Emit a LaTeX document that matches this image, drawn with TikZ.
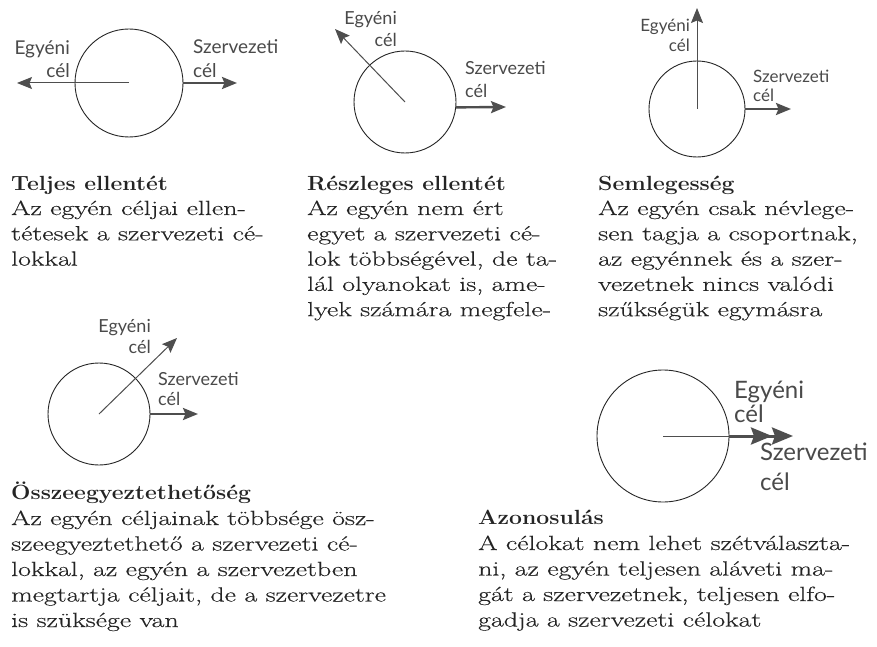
\documentclass[tikz,border=0pt]{standalone}
\usepackage{fontspec}
\setmainfont{Latin Modern Roman}[FakeStretch=1.36, UprightFeatures={FakeBold=0.35}, BoldFeatures={FakeStretch=1.12}]
\newfontfamily\lblfont{Lato}
\usetikzlibrary{arrows.meta}
\definecolor{txt}{HTML}{242424}
\definecolor{lblc}{HTML}{4A4A4A}
\definecolor{arr}{HTML}{4E4E4E}
\tikzset{
  body/.style={anchor=base west, inner sep=0pt, text=txt, font=\fontsize{20.5}{24}\selectfont},
  head/.style={body, font=\fontsize{20.5}{24}\selectfont\bfseries},
  lbl/.style={inner sep=0pt, text=lblc, font=\lblfont\fontsize{19}{22}\selectfont},
  ring/.style={circle, draw=black!85, line width=0.9pt, inner sep=0pt},
  tipA/.tip={Stealth[length=15pt,width=12pt,inset=2.5pt]},
  thinarrow/.style={draw=arr, line width=1pt, -tipA},
  thickarrow/.style={draw=arr, line width=2.4pt, -tipA},
}
\begin{document}
\begin{tikzpicture}[x=1pt,y=-1pt]
\useasboundingbox[fill=white] (0,0) rectangle (877,647);

% ---- Panel 1: Teljes ellentet
\node[ring, minimum size=108pt] (c1) at (129,83) {};
\coordinate (t1l) at (17,83);
\coordinate (t1r) at (237,83);
\draw[thinarrow] (c1.center) -- (t1l);
\draw[thickarrow] (c1.east) -- (t1r);
\node[lbl, anchor=base east] (e1a) at (70,55) {Egyéni};
\node[lbl, anchor=base east] (e1b) at (70,78) {cél};
\node[lbl, anchor=base west] (s1a) at (193,54) {Szervezeti};
\node[lbl, anchor=base west] (s1b) at (193,78) {cél};

% ---- Panel 2: Reszleges ellentet
\node[ring, minimum size=102pt] (c2) at (405,102) {};
\coordinate (t2u) at (335,29);
\coordinate (t2r) at (506,107);
\draw[thinarrow] (c2.center) -- (t2u);
\draw[thickarrow] (c2.-6) -- (t2r);
\node[lbl, font=\lblfont\fontsize{18}{22}\selectfont, anchor=base east] (e2a) at (397,25) {Egyéni};
\node[lbl, font=\lblfont\fontsize{18}{22}\selectfont, anchor=base east] (e2b) at (397,47) {cél};
\node[lbl, font=\lblfont\fontsize{18}{22}\selectfont, anchor=base west] (s2a) at (465,75) {Szervezeti};
\node[lbl, font=\lblfont\fontsize{18}{22}\selectfont, anchor=base west] (s2b) at (465,98) {cél};

% ---- Panel 3: Semlegesseg
\node[ring, minimum size=96pt] (c3) at (697,109) {};
\coordinate (t3u) at (697,8);
\coordinate (t3r) at (791,109);
\draw[thinarrow] (c3.center) -- (t3u);
\draw[thickarrow] (c3.east) -- (t3r);
\node[lbl, font=\lblfont\fontsize{17}{22}\selectfont, anchor=base east] (e3a) at (690,32) {Egyéni};
\node[lbl, font=\lblfont\fontsize{17}{22}\selectfont, anchor=base east] (e3b) at (690,52) {cél};
\node[lbl, font=\lblfont\fontsize{17}{22}\selectfont, anchor=base west] (s3a) at (753,83) {Szervezeti};
\node[lbl, font=\lblfont\fontsize{17}{22}\selectfont, anchor=base west] (s3b) at (753,102) {cél};

% ---- Panel 4: Osszeegyeztethetoseg
\node[ring, minimum size=102pt] (c4) at (99,414) {};
\coordinate (t4u) at (177,338);
\coordinate (t4r) at (198,414);
\draw[thinarrow] (c4.center) -- (t4u);
\draw[thickarrow] (c4.east) -- (t4r);
\node[lbl, font=\lblfont\fontsize{18}{22}\selectfont, anchor=base east] (e4a) at (151,332) {Egyéni};
\node[lbl, font=\lblfont\fontsize{18}{22}\selectfont, anchor=base east] (e4b) at (151,353) {cél};
\node[lbl, font=\lblfont\fontsize{18}{22}\selectfont, anchor=base west] (s4a) at (158,385) {Szervezeti};
\node[lbl, font=\lblfont\fontsize{18}{22}\selectfont, anchor=base west] (s4b) at (158,405) {cél};

% ---- Panel 5: Azonosulas
\node[ring, minimum size=132pt] (c5) at (663,436) {};
\coordinate (t5r) at (793,436);
\draw[draw=arr, line width=1pt] (c5.center) -- (c5.east);
\draw[draw=arr, line width=3pt, -{Stealth[length=21pt,width=17pt,inset=3pt] Stealth[length=21pt,width=17pt,inset=3pt]}] (c5.east) -- (t5r);
\node[lbl, font=\lblfont\fontsize{24}{26}\selectfont, anchor=base west] (e5a) at (734,398) {Egyéni};
\node[lbl, font=\lblfont\fontsize{24}{26}\selectfont, anchor=base west] (e5b) at (734,422) {cél};
\node[lbl, font=\lblfont\fontsize{24}{26}\selectfont, anchor=base west] (s5a) at (760,460) {Szervezeti};
\node[lbl, font=\lblfont\fontsize{24}{26}\selectfont, anchor=base west] (s5b) at (760,490) {cél};

% ---- Text blocks
\node[head] (h1) at (11,190) {Teljes ellentét};
\foreach \t [count=\i from 0] in {{Az egyén céljai ellen-},{tétesek a szervezeti cé-},{lokkal}}
  \node[body] (b1-\i) at (11,{215+25.3*\i}) {\t};

\node[head] (h2) at (307,190) {Részleges ellentét};
\foreach \t [count=\i from 0] in {{Az egyén nem ért},{egyet a szervezeti cé-},{lok többségével, de ta-},{lál olyanokat is, ame-},{lyek számára megfele-}}
  \node[body] (b2-\i) at (307,{215+25.3*\i}) {\t};

\node[head] (h3) at (598,190) {Semlegesség};
\foreach \t [count=\i from 0] in {{Az egyén csak névlege-},{sen tagja a csoportnak,},{az egyénnek és a szer-},{vezetnek nincs valódi},{szűkségük egymásra}}
  \node[body] (b3-\i) at (598,{215+25.3*\i}) {\t};

\node[head] (h4) at (11,499) {Összeegyeztethetőség};
\foreach \t [count=\i from 0] in {{Az egyén céljainak többsége ösz-},{szeegyeztethető a szervezeti cé-},{lokkal, az egyén a szervezetben},{megtartja céljait, de a szervezetre},{is szüksége van}}
  \node[body] (b4-\i) at (11,{525+25.5*\i}) {\t};

\node[head] (h5) at (478,524) {Azonosulás};
\foreach \t [count=\i from 0] in {{A célokat nem lehet szétválaszta-},{ni, az egyén teljesen aláveti ma-},{gát a szervezetnek, teljesen elfo-},{gadja a szervezeti célokat}}
  \node[body] (b5-\i) at (478,{550+25.5*\i}) {\t};
\end{tikzpicture}
\end{document}
